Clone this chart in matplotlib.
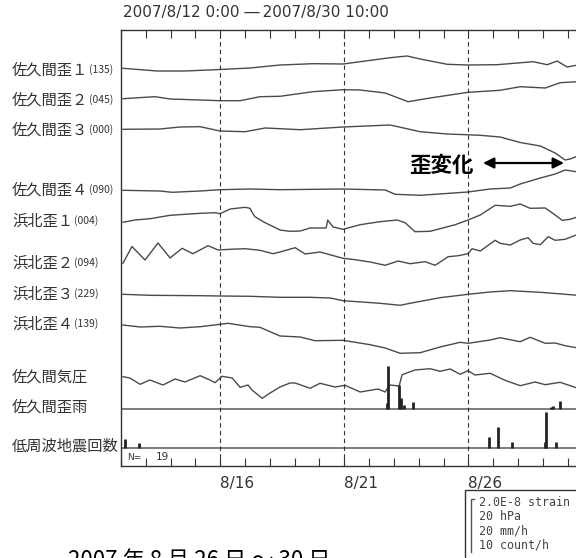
import numpy as np
import matplotlib as mpl
mpl.use('agg')
import matplotlib.pyplot as plt
from matplotlib import transforms as mtransforms
from matplotlib.patches import Rectangle
from matplotlib.lines import Line2D

plt.rcParams['font.family'] = ['Noto Sans CJK JP', 'DejaVu Sans']

# time axis: days since 2007/8/12 0:00 (end 8/30 10:00)
T_END = 18.42

# strain / pressure traces (plot units, + = up)
s1_t = [0.08, 1.45, 2.58, 3.99, 5.20, 6.41, 7.74, 8.95, 9.76, 10.85, 11.53, 12.06,
        13.15, 13.99, 15.16, 16.61, 17.18, 17.58, 17.98, 18.42]
s1_v = [0.7, -2.0, -2.0, -0.5, 1.0, 4.0, 5.3, 5.0, 7.7, 11.3, 13.0, 10.0,
        4.7, 4.0, 4.3, 7.3, 4.3, 8.0, 2.0, 4.0]

s2_t = [0.08, 1.17, 1.37, 1.98, 3.19, 3.99, 4.80, 5.60, 6.41, 7.74, 8.95, 9.64,
        10.65, 11.57, 12.46, 13.99, 15.28, 16.09, 17.10, 17.70, 18.42]
s2_v = [0.3, 2.0, 2.3, 0.0, -1.0, -1.7, -1.7, 2.3, 2.7, 7.3, 9.3, 9.0,
        6.0, -2.7, 1.0, 6.7, 8.7, 12.3, 11.0, 16.3, 17.3]

s3_t = [0.08, 1.57, 2.38, 3.19, 3.99, 5.00, 5.81, 6.41, 7.22, 8.95, 10.85, 12.06,
        13.15, 14.48, 15.28, 16.09, 16.90, 17.50, 17.90, 18.10, 18.42]
s3_v = [-0.3, 0.0, 2.0, 2.3, -2.0, -2.7, 1.0, 0.3, -0.7, 2.0, 4.0, -2.7,
        -5.0, -6.3, -8.0, -13.5, -17.0, -24.0, -31.0, -30.0, -27.0]

s4_t = [0.08, 1.57, 2.06, 3.19, 3.99, 5.20, 6.41, 8.95, 10.65, 11.05, 12.06,
        13.99, 14.88, 15.69, 16.09, 16.90, 17.50, 17.90, 18.42]
s4_v = [-0.3, -1.0, -2.3, -1.0, 0.3, 1.0, 0.3, 1.0, 0.0, -4.3, -5.3,
        -2.0, 1.0, 2.0, 6.0, 12.0, 16.0, 20.0, 18.0]

h1_t = [0.08, 0.56, 1.17, 1.98, 3.19, 3.79, 3.99, 4.40, 5.00, 5.20, 5.30, 5.40,
        5.73, 6.41, 6.81, 7.22, 7.62, 8.27, 8.33, 8.55, 8.95, 9.64, 10.44, 11.13,
        11.45, 11.85, 12.46, 13.47, 13.99, 14.48, 15.08, 15.69, 16.09, 16.49,
        17.10, 17.50, 17.78, 18.10, 18.42]
h1_v = [-0.3, 2.0, 3.3, 6.7, 8.7, 9.3, 8.3, 13.0, 14.7, 13.7, 9.0, 5.3,
        0.3, -8.0, -9.3, -9.0, -6.0, -6.0, 2.0, -5.0, -7.3, -2.7, 0.3, 2.0,
        -0.7, -9.7, -9.3, -2.7, 2.0, 7.0, 16.7, 15.7, 18.0, 13.7,
        14.0, 7.0, 1.7, 2.7, 5.3]

h2_t = [0.08, 0.44, 0.97, 1.49, 1.98, 2.46, 2.90, 3.51, 3.91, 4.40, 5.00, 5.60,
        6.13, 6.41, 7.02, 7.42, 8.02, 8.95, 9.44, 10.04, 10.65, 11.17, 11.65,
        12.26, 12.66, 13.19, 13.59, 13.99, 14.15, 14.48, 15.08, 15.28, 15.69,
        16.09, 16.41, 16.61, 16.90, 17.22, 17.50, 17.90, 18.42]
h2_v = [-0.3, 16.5, 3.0, 20.0, 5.0, 14.7, 9.3, 17.3, 13.0, 13.7, 14.3, 12.7,
        9.3, 11.0, 15.3, 9.0, 11.0, 4.7, 3.3, 1.0, -2.3, 2.0, -0.7,
        1.3, -2.3, 6.3, 7.3, 9.3, 14.3, 12.0, 22.7, 19.7, 18.0,
        23.0, 25.3, 19.7, 18.3, 26.3, 22.7, 23.7, 28.7]

h3_t = [0.08, 1.17, 3.19, 3.99, 5.20, 6.41, 7.62, 8.43, 8.95, 10.44, 11.25, 11.65,
        12.86, 13.99, 14.88, 15.69, 16.90, 18.42]
h3_v = [-0.3, -1.3, -1.7, -2.0, -2.3, -3.3, -3.3, -4.0, -6.7, -9.3, -11.3, -9.3,
        -3.7, -0.3, 2.0, 3.3, 1.7, -1.3]

h4_t = [0.08, 0.77, 1.57, 2.38, 3.19, 3.99, 4.31, 5.20, 5.60, 6.01, 6.41, 7.22,
        7.82, 8.95, 10.04, 10.65, 11.25, 12.06, 12.86, 13.67, 13.99, 14.88, 15.28,
        16.09, 16.49, 17.10, 17.50, 17.90, 18.42]
h4_v = [0.0, -2.0, -1.3, -3.0, -1.7, 0.7, 1.7, -1.7, -2.3, -6.7, -11.0, -12.0,
        -15.7, -15.3, -19.7, -23.0, -28.3, -27.7, -22.0, -17.3, -18.3, -15.0, -12.7,
        -16.7, -12.3, -18.3, -18.0, -20.7, -23.0]

pr_t = [0.08, 0.36, 0.77, 1.17, 1.69, 2.18, 2.58, 3.19, 3.59, 3.79, 4.07, 4.48,
        4.80, 5.12, 5.28, 5.69, 6.01, 6.41, 6.81, 7.02, 7.62, 8.02, 8.63, 9.03,
        9.64, 10.36, 10.65, 10.77, 10.85, 11.21, 11.33, 11.85, 12.46, 12.86,
        13.27, 13.67, 13.99, 14.27, 14.88, 15.48, 16.09, 16.69, 17.10, 17.70, 18.42]
pr_v = [0.3, -1.0, -7.3, -3.0, -8.0, -2.0, -5.0, 1.3, -3.0, -5.7, 0.7, -1.0,
        -10.3, -8.0, -13.0, -21.3, -16.0, -10.0, -6.0, -6.0, -11.3, -6.3, -10.0, -8.3,
        -15.0, -12.0, -15.0, -10.0, -8.0, -9.0, 2.3, 7.0, 8.3, 5.7,
        8.0, 2.7, 6.3, 2.0, 3.7, -3.3, -8.7, -5.0, -7.7, -5.3, -11.3]

# hourly rain (Sakuma) and low-frequency earthquake counts
rain_t = [10.73, 10.77, 11.21, 11.29, 11.41, 11.77, 17.34, 17.42, 17.70]
rain_v = [6, 43, 24, 11, 4, 7, 2, 3, 8]
lf_t = [0.16, 0.73, 14.84, 15.20, 15.77, 17.10, 17.14, 17.54]
lf_v = [9, 5, 11, 21, 6, 6, 36, 6]

traces = [(s1_t, s1_v), (s2_t, s2_v), (s3_t, s3_v), (s4_t, s4_v),
          (h1_t, h1_v), (h2_t, h2_v), (h3_t, h3_v), (h4_t, h4_v), (pr_t, pr_v)]
trace_base = [69, 99, 129, 190, 222, 263, 294, 325, 377]

names = ['佐久間歪１', '佐久間歪２', '佐久間歪３', '佐久間歪４', '浜北歪１',
         '浜北歪２', '浜北歪３', '浜北歪４', '佐久間気圧', '佐久間歪雨', '低周波地震回数']
comps = ['(135)', '(045)', '(000)', '(090)', '(004)', '(094)', '(229)', '(139)', '', '', '']
name_y = [70, 100, 130, 190, 221, 263, 294, 324, 377, 407, 446]

day_ticks = list(range(19))
date_labels = {4: '8/16', 9: '8/21', 14: '8/26'}

W, H = 576, 558
fig = plt.figure(figsize=(W / 100, H / 100), dpi=100)
ax = fig.add_axes([121 / W, 92 / H, 457 / W, 436 / H])
ax.set_xlim(0, T_END)
ax.set_ylim(466, 30)

LC = '#4a4a4a'
for (t, v), b in zip(traces, trace_base):
    ax.plot(t, b - np.array(v), color=LC, lw=1.0)

RAIN_BASE, LF_BASE = 409, 448
ax.axhline(RAIN_BASE, color='#666666', lw=1.2)
ax.axhline(LF_BASE, color='#666666', lw=1.2)
ax.vlines(rain_t, RAIN_BASE, RAIN_BASE - np.array(rain_v), color='#222222', lw=2.0)
ax.vlines(lf_t, LF_BASE, LF_BASE - np.array(lf_v), color='#222222', lw=2.0)

for d in date_labels:
    ax.axvline(d, color='#333333', lw=0.8, ls=(0, (4, 3)))

ax.set_xticks(day_ticks)
ax.set_xticklabels([date_labels.get(d, '') for d in day_ticks],
                   family='DejaVu Sans', fontsize=11, color='#333333', ha='left')
ax.set_yticks([])
ax.tick_params(axis='x', direction='in', length=6, width=0.8, color='#333333',
               top=True, pad=7)
for side in ['left', 'top', 'bottom']:
    ax.spines[side].set_color('#333333')
    ax.spines[side].set_linewidth(1.0)
ax.spines['right'].set_visible(False)

# left labels
trans = mtransforms.blended_transform_factory(fig.transFigure, ax.transData)
for n, c, y in zip(names, comps, name_y):
    t = ax.text(12 / W, y, n, transform=trans, fontsize=11, color='#333333',
                va='center', ha='left')
    if c:
        ax.annotate(c, xy=(1, 0.5), xycoords=t, xytext=(0.5, 0),
                    textcoords='offset points', fontsize=7.5, color='#333333',
                    va='center', ha='left')

def fx(x):
    return x / W

def fy(y):
    return 1 - y / H

fig.text(fx(123), fy(13), '2007/8/12 0:00 \u2015\u20092007/8/30 10:00',
         family='DejaVu Sans', fontsize=11, color='#333333', va='center')

fig.text(fx(409), fy(165), '歪変化', fontsize=15.5, fontweight='bold', color='black',
         va='center', ha='left')
ax.annotate('', xy=(fx(564), fy(163)), xycoords='figure fraction',
            xytext=(fx(483), fy(163)), textcoords='figure fraction',
            arrowprops=dict(arrowstyle='<|-|>', color='black', lw=1.6,
                            mutation_scale=16, shrinkA=0, shrinkB=0))

fig.text(fx(127), fy(457), 'N=', family='DejaVu Sans', fontsize=6.5,
         color='#333333', va='center')
fig.text(fx(156), fy(457), '19', family='DejaVu Sans', fontsize=7.5,
         color='#333333', va='center')

# scale box
fig.add_artist(Rectangle((fx(465), -0.05), 0.3, fy(490) + 0.05, transform=fig.transFigure,
                         fill=False, ec='#333333', lw=1.0))
fig.add_artist(Line2D([fx(474), fx(471), fx(471)], [fy(499), fy(499), fy(552)],
                      transform=fig.transFigure, color='#555555', lw=1.0))
for txt, y in zip(['2.0E-8 strain', '20 hPa', '20 mm/h', '10 count/h'],
                  [503, 516, 531, 545]):
    fig.text(fx(479), fy(y), txt, family='DejaVu Sans Mono', fontsize=8.4,
             color='#444444', va='center')

fig.text(fx(68), fy(549), '2007 年 8 月 26 日 ～ 30 日', fontsize=16,
         color='black', va='top')

fig.savefig('out.png', dpi=100)
